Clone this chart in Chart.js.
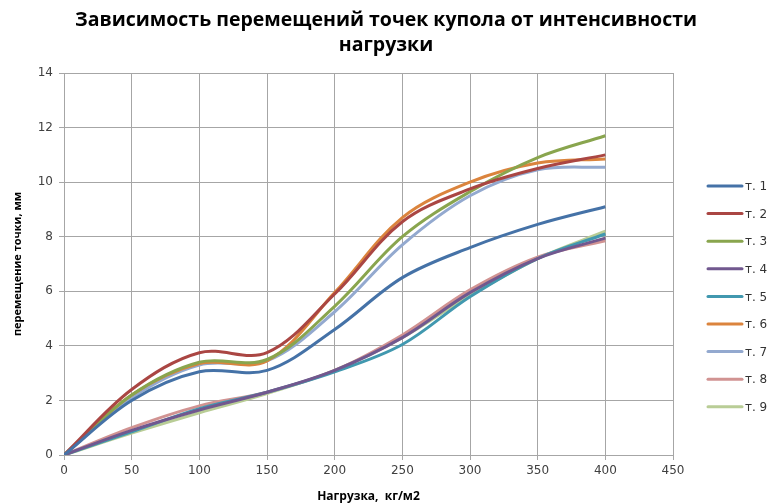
<!DOCTYPE html>
<html>
<head>
<meta charset="utf-8">
<script src="https://cdn.jsdelivr.net/npm/chart.js@4.4.1/dist/chart.umd.min.js"></script>
<style>
  html, body { margin: 0; padding: 0; background: #fff; }
  #wrap { width: 771px; height: 504px; }
</style>
</head>
<body>
<div id="wrap"><canvas id="chart" width="771" height="504"></canvas></div>
<script>
// нагрузка, кг/м2
const loads = [0, 50, 100, 150, 200, 250, 300, 350, 400];

// перемещения точек, мм
const t1 = [0, 2.0, 3.05, 3.1, 4.6, 6.5, 7.6, 8.45, 9.1];
const t2 = [0, 2.4, 3.75, 3.75, 5.9, 8.55, 9.75, 10.5, 11.0];
const t3 = [0, 2.2, 3.4, 3.5, 5.45, 8.0, 9.65, 10.9, 11.7];
const t4 = [0, 0.9, 1.65, 2.3, 3.1, 4.3, 5.95, 7.2, 7.95];
const t5 = [0, 0.85, 1.7, 2.3, 3.05, 4.05, 5.8, 7.2, 8.1];
const t6 = [0, 2.2, 3.35, 3.45, 5.95, 8.7, 10.0, 10.7, 10.85];
const t7 = [0, 2.1, 3.3, 3.45, 5.25, 7.7, 9.5, 10.45, 10.55];
const t8 = [0, 1.0, 1.8, 2.3, 3.1, 4.4, 6.05, 7.25, 7.85];
const t9 = [0, 0.8, 1.55, 2.25, 3.1, 4.3, 5.85, 7.2, 8.2];

const seriesNames = ['т. 1', 'т. 2', 'т. 3', 'т. 4', 'т. 5', 'т. 6', 'т. 7', 'т. 8', 'т. 9'];
const seriesValues = [t1, t2, t3, t4, t5, t6, t7, t8, t9];
const seriesColors = ['#4572A7', '#AA4643', '#89A54E', '#71588F', '#4198AF', '#DB843D', '#93A9CF', '#D19392', '#B9CD96'];

const titleLines = ['Зависимость перемещений точек купола от интенсивности', 'нагрузки'];

const datasets = seriesValues.map((vals, i) => ({
    label: seriesNames[i],
    data: vals.map((v, j) => ({ x: loads[j], y: v })),
    borderColor: seriesColors[i],
    backgroundColor: seriesColors[i],
    borderWidth: 3,
    pointRadius: 0,
    tension: 0.35,
    fill: false
}));

// заголовок по центру всего холста и легенда справа, как в Excel
const excelDecor = {
    id: 'excelDecor',
    afterDraw(chart) {
        const ctx = chart.ctx;
        ctx.save();
        ctx.fillStyle = '#000';
        ctx.textAlign = 'center';
        ctx.textBaseline = 'middle';
        ctx.font = 'bold 19.5px "Open Sans"';
        titleLines.forEach((line, i) => ctx.fillText(line, 386, 20 + i * 25));

        ctx.font = '12px "DejaVu Sans"';
        ctx.textAlign = 'left';
        chart.data.datasets.forEach((ds, i) => {
            const y = 186 + i * 27.6;
            ctx.strokeStyle = ds.borderColor;
            ctx.lineWidth = 3;
            ctx.lineCap = 'round';
            ctx.beginPath();
            ctx.moveTo(708, y);
            ctx.lineTo(742, y);
            ctx.stroke();
            ctx.fillStyle = '#333';
            ctx.fillText(ds.label, 745, y + 1);
        });
        ctx.restore();
    }
};

const gridGray = '#a6a6a6';

new Chart(document.getElementById('chart'), {
    type: 'line',
    data: { datasets },
    options: {
        responsive: false,
        animation: false,
        layout: { padding: { top: 73, right: 98, bottom: 0, left: 0 } },
        plugins: {
            legend: { display: false },
            tooltip: { enabled: false },
            title: { display: false }
        },
        scales: {
            x: {
                type: 'linear',
                min: 0,
                max: 450,
                ticks: { stepSize: 50, color: '#404040', font: { family: '"DejaVu Sans"', size: 12 }, padding: 4 },
                grid: { color: gridGray, lineWidth: 1, tickLength: 5, tickColor: gridGray },
                border: { color: gridGray },
                title: {
                    display: true,
                    text: 'Нагрузка,  кг/м2',
                    font: { family: '"Open Sans"', size: 12, weight: 'bold' },
                    color: '#000',
                    padding: { top: 3, bottom: 0 }
                },
                afterFit: s => { s.height = 49; }
            },
            y: {
                min: 0,
                max: 14,
                ticks: { stepSize: 2, color: '#404040', font: { family: '"DejaVu Sans"', size: 12 }, padding: 6 },
                grid: { color: gridGray, lineWidth: 1, tickLength: 5, tickColor: gridGray },
                border: { color: gridGray },
                title: {
                    display: true,
                    text: 'перемещение точки, мм',
                    font: { family: '"Open Sans"', size: 11, weight: 'bold' },
                    color: '#000',
                    padding: { top: 11, bottom: 2 }
                },
                afterFit: s => { s.width = 64; }
            }
        }
    },
    plugins: [excelDecor]
});
</script>
</body>
</html>
